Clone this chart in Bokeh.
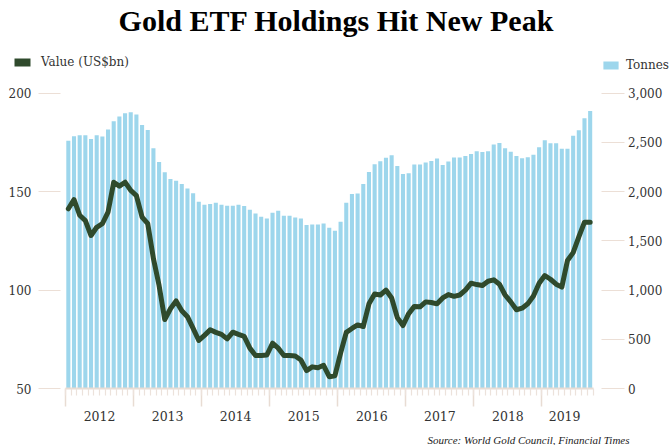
from bokeh.plotting import figure
from bokeh.models import (Range1d, LinearAxis, FixedTicker, NumeralTickFormatter,
                          Label, Legend, LegendItem)
from bokeh.embed import file_html
from bokeh.resources import INLINE

# ---------------- data ----------------
years = ["2012", "2013", "2014", "2015", "2016", "2017", "2018", "2019"]
year_label_pos = [6, 18, 30, 42, 54, 66, 78, 88]
year_starts = [0, 12, 24, 36, 48, 60, 72, 84]

# monthly, Jan 2012 .. Sep 2019
tonnes = [2518, 2562, 2572, 2572, 2535, 2572, 2559, 2630, 2715, 2763, 2797, 2807,
          2783, 2678, 2627, 2440, 2301, 2196, 2128, 2111, 2077, 2033, 1984, 1897,
          1867, 1874, 1887, 1867, 1856, 1856, 1867, 1853, 1816, 1778, 1744, 1727,
          1785, 1805, 1755, 1755, 1737, 1727, 1660, 1666, 1666, 1676, 1632, 1602,
          1693, 1888, 1976, 1982, 2077, 2200, 2278, 2308, 2343, 2370, 2261, 2179,
          2187, 2275, 2275, 2295, 2310, 2337, 2271, 2306, 2348, 2348, 2361, 2383,
          2409, 2403, 2409, 2480, 2495, 2442, 2405, 2363, 2340, 2350, 2375, 2450,
          2523, 2491, 2491, 2436, 2436, 2567, 2623, 2745, 2819]

value_usbn = [141.3, 146, 138, 135.3, 127.7, 131.9, 133.7, 139.6, 154.8, 152.8, 154.8, 150.6,
              148, 137, 133.7, 116, 102.3, 85, 90.5, 94.5, 89.5, 86.5, 80.5, 74.4,
              77, 79.8, 78.5, 77.5, 75.2, 78.6, 77.5, 76.5, 70.5, 66.8, 66.8, 67,
              73, 70.5, 66.8, 66.8, 66.5, 64.5, 59.1, 61, 60.5, 61.8, 56, 56.5,
              68, 78.5, 80.5, 82.3, 81.5, 93, 98, 97.5, 100, 96, 86, 82,
              88, 91.7, 91.5, 94, 93.7, 93, 96, 97.7, 96.8, 97.5, 100, 103.5,
              102.8, 102.3, 104.5, 105.2, 103, 97.5, 94, 90, 90.8, 93, 97, 103.5,
              107.4, 105.5, 103, 101.5, 115, 119, 127, 134.5, 134.5]

left_ticks = [50, 100, 150, 200]
right_ticks = [0, 500, 1000, 1500, 2000, 2500, 3000]

month_x = [i + 0.5 for i in range(len(tonnes))]
N_MONTHS = len(tonnes)
V0, V1 = 50, 200
T0, T1 = 0, 3000

# ---------------- layout (page pixels) ----------------
W, H = 672, 445
PL, PR, PT, PB = 65.0, 592.5, 92.7, 388.0   # plotting area of the reference
pxm = (PR - PL) / N_MONTHS
pyv = (PB - PT) / (V1 - V0)
pyt = (PB - PT) / (T1 - T0)

x_rng = Range1d(0 - PL / pxm, N_MONTHS + (W - PR) / pxm)
y_rng = Range1d(V0 - (H - PB) / pyv, V1 + PT / pyv)
t_rng = Range1d(T0 - (H - PB) / pyt, T1 + PT / pyt)

def dx(page_x):
    return (page_x - PL) / pxm

def dy(page_y):
    return V0 + (PB - page_y) / pyv

GREEN = "#2f4a2c"
BLUE = "#9dd6ec"
STUB = "#ecdfd6"
TXT = "#333333"

p = figure(width=W, height=H, output_backend="svg", toolbar_location=None,
           x_range=x_rng, y_range=y_rng, x_axis_type=None, y_axis_type=None,
           min_border=0, min_border_left=0, min_border_right=0,
           min_border_top=0, min_border_bottom=0)
p.outline_line_color = None
p.background_fill_color = "white"
p.border_fill_color = "white"
p.extra_y_ranges = {"t": t_rng}

bars = p.vbar(x=month_x, top=tonnes, bottom=0, width=0.72, y_range_name="t",
              fill_color=BLUE, line_color=None)
p.line(x=month_x, y=value_usbn, line_color=GREEN, line_width=5,
       line_join="round", line_cap="round")
# hidden renderer only used to draw the dark square of the "Value" legend key
value_key = p.vbar(x=month_x, top=value_usbn, bottom=V0, width=0.72,
                   fill_color=GREEN, line_color=None, visible=False)

# left axis
la = LinearAxis(ticker=FixedTicker(ticks=left_ticks), fixed_location=0,
                axis_line_color=None,
                major_tick_out=27, major_tick_in=-5, major_tick_line_color=STUB,
                major_tick_line_width=1.2,
                minor_tick_out=0, minor_tick_in=0, minor_tick_line_color=None,
                major_label_standoff=7, major_label_text_font="DejaVu Serif",
                major_label_text_font_size="12px", major_label_text_color=TXT)
p.add_layout(la, "left")

# right axis
ra = LinearAxis(y_range_name="t", ticker=FixedTicker(ticks=right_ticks),
                fixed_location=N_MONTHS,
                formatter=NumeralTickFormatter(format="0,0"), axis_line_color=None,
                major_tick_out=31, major_tick_in=-8, major_tick_line_color=STUB,
                major_tick_line_width=1.2,
                minor_tick_out=0, minor_tick_in=0, minor_tick_line_color=None,
                major_label_standoff=4, major_label_text_font="DejaVu Serif",
                major_label_text_font_size="12px", major_label_text_color=TXT)
p.add_layout(ra, "right")

# bottom axis: ticks only
ba = LinearAxis(ticker=FixedTicker(ticks=year_starts, minor_ticks=list(range(0, N_MONTHS + 1))),
                fixed_location=V0, bounds=(0, N_MONTHS),
                axis_line_color="#e8dcd3", axis_line_width=2,
                major_tick_out=18, major_tick_in=0, major_tick_line_color="#e8dcd3",
                major_tick_line_width=1.5,
                minor_tick_out=7, minor_tick_in=0, minor_tick_line_color="#ece2db",
                minor_tick_line_width=1.2,
                major_label_overrides={t: "" for t in year_starts},
                major_label_text_font_size="1px", major_label_standoff=0)
p.add_layout(ba, "below")

# bottom axis: year labels
ya = LinearAxis(ticker=FixedTicker(ticks=year_label_pos), fixed_location=V0,
                major_label_overrides={t: y for t, y in zip(year_label_pos, years)},
                axis_line_color=None, major_tick_line_color=None,
                major_tick_out=0, major_tick_in=0,
                minor_tick_line_color=None, minor_tick_out=0, minor_tick_in=0,
                major_label_standoff=22, major_label_text_font="DejaVu Serif",
                major_label_text_font_size="12.5px", major_label_text_color=TXT)
p.add_layout(ya, "below")

# legends
leg1 = Legend(items=[LegendItem(label="Value (US$bn)", renderers=[value_key])],
              location=(12, H - 69), padding=0, margin=0, spacing=0,
              glyph_width=20, glyph_height=10, label_height=10, label_standoff=9,
              label_text_font="DejaVu Serif", label_text_font_size="12px",
              label_text_color=TXT, border_line_color=None, background_fill_alpha=0)
p.add_layout(leg1, "center")

leg2 = Legend(items=[LegendItem(label="Tonnes", renderers=[bars])],
              location=(601, H - 72), padding=0, margin=0, spacing=0,
              glyph_width=19, glyph_height=10, label_height=10, label_standoff=6,
              label_text_font="DejaVu Serif", label_text_font_size="12px",
              label_text_color=TXT, border_line_color=None, background_fill_alpha=0)
p.add_layout(leg2, "center")

# title and source
p.add_layout(Label(x=dx(336), y=dy(20), text="Gold ETF Holdings Hit New Peak",
                   text_align="center", text_baseline="middle",
                   text_font="Liberation Serif", text_font_style="bold",
                   text_font_size="30px", text_color="black"))
p.add_layout(Label(x=dx(629), y=dy(439), text="Source: World Gold Council, Financial Times",
                   text_align="right", text_baseline="middle",
                   text_font="Liberation Serif", text_font_style="italic",
                   text_font_size="11px", text_color="#222222"))

open("out.html", "w").write(file_html(p, INLINE))
